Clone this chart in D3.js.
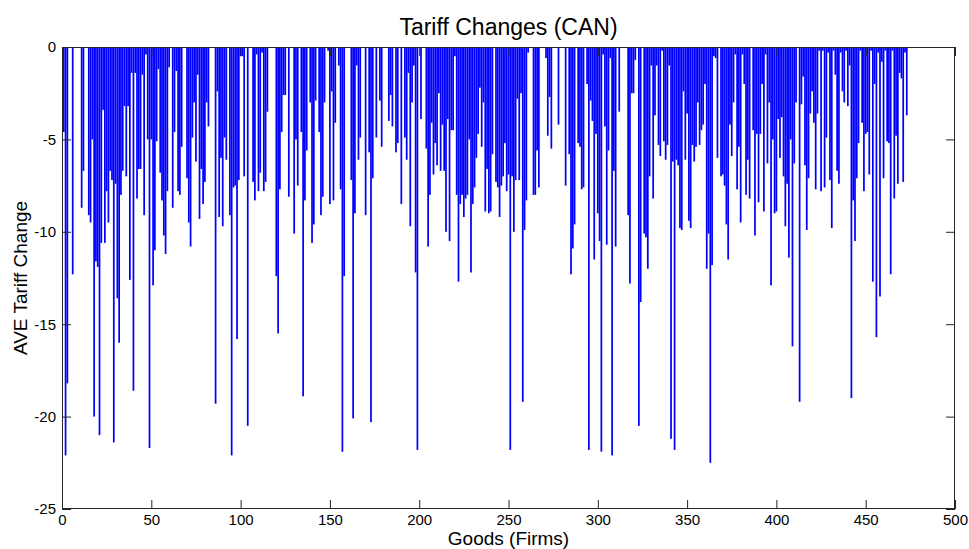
<!DOCTYPE html>
<html><head><meta charset="utf-8">
<script src="https://cdn.jsdelivr.net/npm/d3@7"></script>
<style>
body{margin:0;background:#fff}
text{font-family:Arial,"Liberation Sans",sans-serif;fill:#000}
</style>
</head><body>
<svg id="chart" width="969" height="549"></svg>
<script>
const chartTitle = "Tariff Changes (CAN)";
const xAxisLabel = "Goods (Firms)";
const yAxisLabel = "AVE Tariff Change";
const xTickValues = [0, 50, 100, 150, 200, 250, 300, 350, 400, 450, 500];
const yTickValues = [0, -5, -10, -15, -20, -25];
const tariffChange = [
-4.6,-22.1,-18.2,0,0,-12.3,0,0,0,0,
-8.7,-6.7,0,0,-9.1,-9.5,-5.0,-20.0,-11.6,-11.9,
-21.0,-10.6,-3.4,-10.6,-7.8,-9.5,-6.7,-7.2,-21.4,-7.4,
-13.6,-16.0,-8.0,-6.7,-3.2,-7.0,-3.2,-12.6,-1.4,-18.6,
-1.4,-8.2,-6.6,-6.6,-1.5,-9.1,-0.4,-5.0,-21.7,-5.0,
-12.9,-11.0,-5.1,-1.2,-6.8,-8.3,-10.2,-11.2,-7.8,-1.1,
0,-8.7,-4.6,-1.3,-7.8,-8.0,-5.4,0,0,-7.1,
-9.5,-10.8,-4.9,-3.0,-6.2,-1.5,-9.3,-6.6,-8.5,-7.3,
-3.0,-4.3,0,0,0,-19.3,-2.4,-9.2,-6.0,-9.7,
-4.9,-6.1,0,-9.1,-22.1,-7.6,-7.5,-15.8,-7.2,-0.5,
-0.5,-7.0,0,-20.5,0,0,-7.3,-8.3,-0.4,-7.8,
-6.8,-0.3,-7.8,-7.3,-3.5,0,0,0,0,-12.4,
-15.5,-7.7,-4.6,-2.6,-2.6,0,-8.1,0,0,-10.1,
-5.0,-7.5,0,-4.6,-18.9,-8.3,-5.6,0,-3.0,-10.6,
-9.6,-2.9,0,-4.6,-9.1,-8.1,-3.0,0,-0.2,-8.5,
-2.4,-8.3,-4.1,0,-1.0,-7.7,-21.9,-12.4,0,0,
0,-7.2,-20.1,-9.0,-1.0,-6.1,-4.9,0,0,-9.1,
0,-5.7,-20.3,-7.1,0,-4.9,0,-2.9,-5.4,0,
0,0,-4.0,-2.6,-4.3,0,-5.7,-5.2,0,-8.5,
0,-4.9,-6.1,-1.4,-9.7,-3.0,-1.0,-12.2,-21.8,0,
-3.9,0,0,-5.5,-10.8,-8.0,-4.1,-6.9,-5.2,-6.4,
-2.5,-6.7,-4.2,-6.7,-10.0,-3.9,-10.5,-4.5,-4.5,-0.5,
-8.0,-12.7,-8.5,-8.0,-9.2,-8.2,-8.0,-5.0,-12.2,-8.5,
-7.6,-6.0,-4.7,-2.2,-5.4,-3.0,-8.9,-6.6,-9.0,-8.9,
-5.8,0,-7.3,-7.6,-9.2,-7.5,-7.0,-5.2,-7.8,-6.9,
-21.8,-7.0,-10.0,-7.2,-2.8,-7.2,-2.5,-19.2,-9.9,-8.3,
-0.3,0,0,-8.0,-8.0,-5.6,-7.6,0,0,0,
-0.6,-4.8,-2.7,-5.5,0,0,0,-4.2,0,0,
0,-7.5,0,-5.8,-12.3,-10.9,-9.6,0,-5.2,-5.4,
-7.7,-7.6,0,-2.0,-21.8,-2.9,-4.0,-11.5,-4.7,-9.0,
-10.5,-21.9,-0.4,-4.3,-10.7,-5.6,-0.6,-22.1,-6.7,-10.8,
0,-3.5,0,0,0,0,-9.1,-12.8,-2.5,-2.5,
-0.7,0,-20.5,-13.8,0,-10.1,-10.3,-12.0,-7.0,-1.0,
-8.2,-3.7,-1.0,-5.3,-5.9,-0.2,-5.1,-6.1,-5.3,-1.0,
-21.2,-6.2,-21.8,-6.1,-6.4,-9.8,-9.9,-2.4,-6.1,-3.6,
-9.4,-9.8,-5.3,-6.2,-5.4,-3.0,-5.3,-4.5,-4.2,-2.0,
-12.0,-10.1,-22.5,-11.8,-0.5,-0.6,-6.0,0,-7.0,-6.9,
-7.5,-9.6,-11.5,-4.2,-5.9,-3.0,-0.4,-7.7,-5.4,-9.5,
-0.4,-2.0,-8.0,-6.1,-8.2,0,-4.5,-10.2,-4.7,-8.4,
-4.7,-2.0,-8.9,-0.4,-6.3,-3.0,-12.9,-5.0,-9.0,-8.9,
-3.9,-6.0,-3.8,-7.0,-9.7,-7.4,-11.4,-5.0,-16.2,-6.3,
-3.0,0,-19.2,-3.1,-1.6,-6.4,-9.9,-7.1,-3.6,-2.4,
-4.1,-7.7,-3.6,-0.2,-7.8,-0.2,-7.6,-4.9,-0.3,-7.2,
-9.8,-0.2,-1.5,-6.7,-7.4,-0.3,-2.4,-3.0,-0.2,-3.2,
-1.0,-19.0,-8.3,-10.5,-7.1,-5.2,-0.2,-4.1,-7.8,-4.7,
-4.6,-6.9,-0.2,-12.7,-2.0,-15.7,-0.3,-13.5,-0.8,-7.1,
-0.2,-5.1,-5.2,-12.3,-0.2,-8.2,-4.8,-7.4,-1.4,-1.7,
-7.3,-0.3,-3.7
];
const goods = tariffChange.map((_, i) => i + 1);

const svg = d3.select("#chart");
const pLeft = 62, pRight = 955, pTop = 47, pBottom = 509;
const x = d3.scaleLinear().domain([0, 500]).range([pLeft, pRight]);
const y = d3.scaleLinear().domain([-25, 0]).range([pBottom, pTop]);
const barW = (x(1) - x(0)) * 0.97;

svg.append("rect").attr("x", 0).attr("y", 0).attr("width", 969).attr("height", 549).attr("fill", "#fff");

svg.append("g").selectAll("rect").data(goods).join("rect")
  .attr("x", d => x(d) - barW / 2)
  .attr("width", barW)
  .attr("y", y(0))
  .attr("height", (d, i) => y(tariffChange[i]) - y(0))
  .attr("fill", "#0000ff");

const tickLen = 9;
const axB = svg.append("g").attr("transform", `translate(0,${pBottom})`)
  .call(d3.axisBottom(x).tickValues(xTickValues).tickSizeInner(-tickLen).tickSizeOuter(0).tickPadding(5).tickFormat(d3.format("d")));
const axL = svg.append("g").attr("transform", `translate(${pLeft},0)`)
  .call(d3.axisLeft(y).tickValues(yTickValues).tickSizeInner(-tickLen).tickSizeOuter(0).tickPadding(6).tickFormat(d => String(d)));
const axT = svg.append("g").attr("transform", `translate(0,${pTop})`)
  .call(d3.axisTop(x).tickValues(xTickValues).tickSizeInner(-tickLen).tickSizeOuter(0).tickFormat(""));
const axR = svg.append("g").attr("transform", `translate(${pRight},0)`)
  .call(d3.axisRight(y).tickValues(yTickValues).tickSizeInner(-tickLen).tickSizeOuter(0).tickFormat(""));
[axB, axL, axT, axR].forEach(a => {
  a.select(".domain").remove();
  a.selectAll("line").attr("stroke", "#262626");
  a.selectAll("text").attr("font-size", 15).attr("fill", "#000").attr("font-family", "Arial, 'Liberation Sans', sans-serif");
});

svg.append("rect").attr("x", pLeft + 0.5).attr("y", pTop + 0.5)
  .attr("width", pRight - pLeft - 1).attr("height", pBottom - pTop - 1)
  .attr("fill", "none").attr("stroke", "#262626").attr("stroke-width", 1);

svg.append("text").attr("x", (pLeft + pRight) / 2).attr("y", 35).attr("text-anchor", "middle")
  .attr("font-size", 23).text(chartTitle);
svg.append("text").attr("x", (pLeft + pRight) / 2).attr("y", 545).attr("text-anchor", "middle")
  .attr("font-size", 19).text(xAxisLabel);
svg.append("text").attr("transform", `translate(27,${(pTop + pBottom) / 2}) rotate(-90)`).attr("text-anchor", "middle")
  .attr("font-size", 19).text(yAxisLabel);
</script>
</body></html>
